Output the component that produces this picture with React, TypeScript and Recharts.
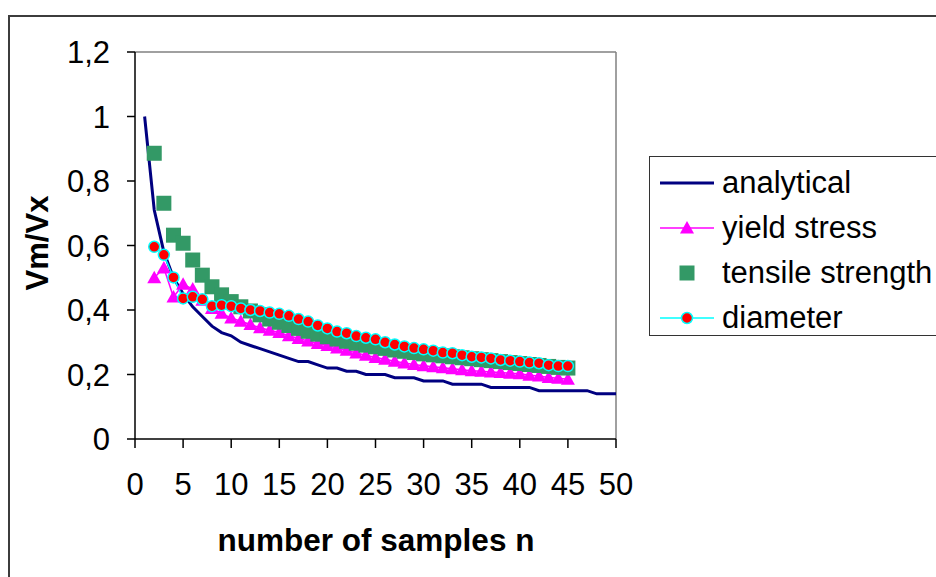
import {
  ComposedChart,
  Line,
  XAxis,
  YAxis,
  ReferenceLine,
  Legend,
  Label,
} from "recharts";

const FONT = '"Liberation Sans", Arial, sans-serif';

// number of samples n
const nValues = Array.from({ length: 50 }, (_, i) => i + 1);

// analytical curve, n = 1..50
const analytical = [
  1.0, 0.71, 0.58, 0.5, 0.45, 0.41, 0.38, 0.35, 0.33, 0.32,
  0.3, 0.29, 0.28, 0.27, 0.26, 0.25, 0.24, 0.24, 0.23, 0.22,
  0.22, 0.21, 0.21, 0.2, 0.2, 0.2, 0.19, 0.19, 0.19, 0.18,
  0.18, 0.18, 0.17, 0.17, 0.17, 0.17, 0.16, 0.16, 0.16, 0.16,
  0.16, 0.15, 0.15, 0.15, 0.15, 0.15, 0.15, 0.14, 0.14, 0.14,
];

// measured series, n = 2..45
const firstSample = 2;
const yieldStress = [
  0.5, 0.53, 0.44, 0.48, 0.465, 0.43, 0.405, 0.39, 0.375, 0.365,
  0.355, 0.345, 0.337, 0.33, 0.32, 0.312, 0.304, 0.296, 0.29, 0.282,
  0.275, 0.267, 0.26, 0.253, 0.247, 0.241, 0.236, 0.231, 0.227, 0.224,
  0.221, 0.218, 0.215, 0.212, 0.21, 0.208, 0.206, 0.204, 0.202, 0.198,
  0.195, 0.191, 0.188, 0.185,
];
const tensileStrength = [
  0.886, 0.731, 0.632, 0.607, 0.555, 0.508, 0.472, 0.447, 0.426, 0.41,
  0.397, 0.385, 0.372, 0.362, 0.352, 0.343, 0.334, 0.325, 0.317, 0.31,
  0.303, 0.297, 0.291, 0.286, 0.281, 0.276, 0.272, 0.268, 0.264, 0.261,
  0.258, 0.255, 0.252, 0.249, 0.246, 0.243, 0.24, 0.237, 0.234, 0.231,
  0.228, 0.225, 0.222, 0.22,
];
const diameter = [
  0.596, 0.571, 0.501, 0.436, 0.441, 0.433, 0.412, 0.415, 0.412, 0.405,
  0.4, 0.397, 0.392, 0.388, 0.382, 0.372, 0.364, 0.352, 0.343, 0.333,
  0.328, 0.319, 0.314, 0.309, 0.3, 0.293, 0.287, 0.282, 0.278, 0.274,
  0.268, 0.266, 0.26, 0.255, 0.253, 0.25, 0.245, 0.243, 0.24, 0.237,
  0.235, 0.229, 0.226, 0.226,
];

const xTicks = [0, 5, 10, 15, 20, 25, 30, 35, 40, 45, 50];
const yTicks = [0, 0.2, 0.4, 0.6, 0.8, 1, 1.2];

const pick = (arr: number[], n: number) => {
  const v = arr[n - firstSample];
  return v === undefined ? null : v;
};

const data = nValues.map((n, i) => ({
  n,
  analytical: analytical[i],
  yieldStress: pick(yieldStress, n),
  tensileStrength: pick(tensileStrength, n),
  diameter: pick(diameter, n),
}));

const NAVY = "#000080";
const MAGENTA = "#FF00FF";
const GREEN = "#339966";
const RED = "#FF0000";
const CYAN = "#00FFFF";

const triangleDot = (p: any) => {
  const { cx, cy, index } = p;
  if (cx == null || cy == null) return <g key={`t-${index}`} />;
  return (
    <polygon
      key={`t-${index}`}
      points={`${cx},${cy - 7} ${cx + 7},${cy + 5.5} ${cx - 7},${cy + 5.5}`}
      fill={MAGENTA}
    />
  );
};

const squareDot = (p: any) => {
  const { cx, cy, index } = p;
  if (cx == null || cy == null) return <g key={`s-${index}`} />;
  return <rect key={`s-${index}`} x={cx - 7.5} y={cy - 7.5} width={15} height={15} fill={GREEN} />;
};

const circleDot = (p: any) => {
  const { cx, cy, index } = p;
  if (cx == null || cy == null) return <g key={`c-${index}`} />;
  return <circle key={`c-${index}`} cx={cx} cy={cy} r={5.5} fill={RED} stroke={CYAN} strokeWidth={1.5} />;
};

const legendItems = [
  { name: "analytical", kind: "line" },
  { name: "yield stress", kind: "triangle" },
  { name: "tensile strength", kind: "square" },
  { name: "diameter", kind: "circle" },
];

function LegendSymbol({ kind }: { kind: string }) {
  return (
    <svg width={54} height={20} style={{ display: "block" }}>
      {kind === "line" && <line x1={0} y1={10} x2={54} y2={10} stroke={NAVY} strokeWidth={3} />}
      {kind === "triangle" && (
        <>
          <line x1={0} y1={10} x2={54} y2={10} stroke={MAGENTA} strokeWidth={1.5} />
          <polygon points="27,3 34,15.5 20,15.5" fill={MAGENTA} />
        </>
      )}
      {kind === "square" && <rect x={19.5} y={2.5} width={15} height={15} fill={GREEN} />}
      {kind === "circle" && (
        <>
          <line x1={0} y1={10} x2={54} y2={10} stroke={CYAN} strokeWidth={1.5} />
          <circle cx={27} cy={10} r={5.5} fill={RED} stroke={CYAN} strokeWidth={1.5} />
        </>
      )}
    </svg>
  );
}

function LegendBox() {
  return (
    <div
      style={{
        width: 300,
        height: 180,
        boxSizing: "border-box",
        border: "1.5px solid #333",
        background: "#fff",
        paddingTop: 3,
        fontFamily: FONT,
        fontSize: 31,
        color: "#000",
      }}
    >
      {legendItems.map((it) => (
        <div key={it.name} style={{ display: "flex", alignItems: "center", height: 45 }}>
          <div style={{ marginLeft: 10 }}>
            <LegendSymbol kind={it.kind} />
          </div>
          <span style={{ marginLeft: 8, whiteSpace: "nowrap" }}>{it.name}</span>
        </div>
      ))}
    </div>
  );
}

const tickStyle = { fontSize: 31, fill: "#000", fontFamily: FONT };

export default function App() {
  return (
    <div
      style={{
        position: "absolute",
        left: 0,
        top: 0,
        width: 936,
        height: 577,
        overflow: "hidden",
        background: "#fff",
      }}
    >
      <div
        style={{
          position: "absolute",
          left: 8,
          top: 15,
          width: 1000,
          height: 1000,
          borderLeft: "2px solid #3c3c3c",
          borderTop: "2px solid #3c3c3c",
        }}
      />
      <ComposedChart
        width={936}
        height={577}
        data={data}
        margin={{ top: 52, right: 320, bottom: 38, left: 0 }}
        style={{ position: "absolute", left: 0, top: 0 }}
      >
        <XAxis
          type="number"
          dataKey="n"
          domain={[0, 50]}
          ticks={xTicks}
          height={100}
          tickSize={9}
          tickMargin={25}
          tick={tickStyle}
          axisLine={{ stroke: "#000", strokeWidth: 1.5 }}
          tickLine={{ stroke: "#000", strokeWidth: 1.5 }}
        >
          <Label
            content={() => (
              <text
                x={376}
                y={551}
                textAnchor="middle"
                fontFamily={FONT}
                fontWeight="bold"
                fontSize={31.5}
                fill="#000"
              >
                number of samples n
              </text>
            )}
          />
        </XAxis>
        <YAxis
          type="number"
          domain={[0, 1.2]}
          ticks={yTicks}
          width={135}
          tickSize={8}
          tickMargin={17}
          tick={tickStyle}
          tickFormatter={(v: number) => String(v).replace(".", ",")}
          axisLine={{ stroke: "#000", strokeWidth: 1.5 }}
          tickLine={{ stroke: "#000", strokeWidth: 1.5 }}
        >
          <Label
            content={() => (
              <text
                x={37}
                y={243}
                transform="rotate(-90, 37, 243)"
                textAnchor="middle"
                dominantBaseline="central"
                fontFamily={FONT}
                fontWeight="bold"
                fontSize={31}
                fill="#000"
              >
                Vm/Vx
              </text>
            )}
          />
        </YAxis>
        <ReferenceLine y={1.2} stroke="#808080" strokeWidth={1.5} />
        <ReferenceLine x={50} stroke="#808080" strokeWidth={1.5} />
        <Legend
          layout="vertical"
          align="center"
          verticalAlign="middle"
          wrapperStyle={{ left: 649, top: 156, width: 300 }}
          content={() => <LegendBox />}
        />
        <Line
          dataKey="analytical"
          stroke={NAVY}
          strokeWidth={3}
          dot={false}
          isAnimationActive={false}
        />
        <Line
          dataKey="yieldStress"
          stroke={MAGENTA}
          strokeWidth={1.5}
          dot={triangleDot}
          activeDot={false}
          isAnimationActive={false}
        />
        <Line
          dataKey="tensileStrength"
          stroke="none"
          strokeWidth={0}
          dot={squareDot}
          activeDot={false}
          isAnimationActive={false}
        />
        <Line
          dataKey="diameter"
          stroke={CYAN}
          strokeWidth={1.5}
          dot={circleDot}
          activeDot={false}
          isAnimationActive={false}
        />
      </ComposedChart>
    </div>
  );
}
